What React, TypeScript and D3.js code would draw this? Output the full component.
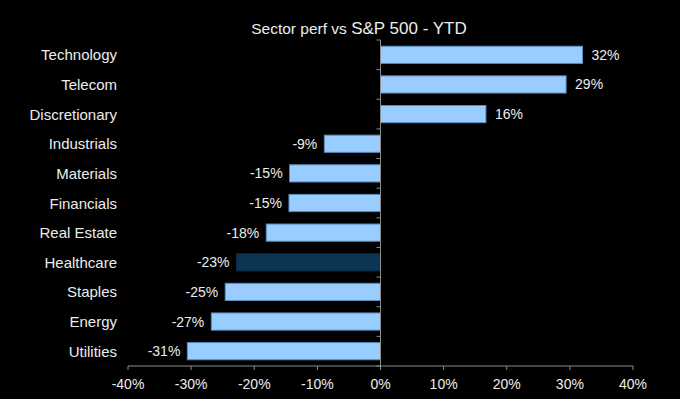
import React from "react";
import * as d3 from "d3";

const categories = ["Technology", "Telecom", "Discretionary", "Industrials", "Materials", "Financials", "Real Estate", "Healthcare", "Staples", "Energy", "Utilities"];
const values = [32.0, 29.4, 16.7, -8.9, -14.4, -14.5, -18.1, -22.8, -24.6, -26.8, -30.6];
const valueLabels = ["32%", "29%", "16%", "-9%", "-15%", "-15%", "-18%", "-23%", "-25%", "-27%", "-31%"];
const highlighted = ["Healthcare"];
const xTicks = [-40, -30, -20, -10, 0, 10, 20, 30, 40];

const W = 680, H = 399;
const FONT = "'Liberation Sans', Arial, sans-serif";

export default function App() {
  const x = d3.scaleLinear().domain([-40, 40]).range([128, 633]);
  const y = d3.scaleBand<string>().domain(categories).range([40, 366]).paddingInner(0.42).paddingOuter(0.21);
  const x0 = x(0);
  const yTop = 40, yBottom = 366;
  const bandTicks = d3.range(categories.length + 1).map(i => yTop + i * (yBottom - yTop) / categories.length);

  return (
    <svg width={W} height={H} style={{ position: "absolute", left: 0, top: 0, background: "#000" }} fontFamily={FONT}>
      <rect x={0} y={0} width={W} height={H} fill="#000" />
      <text x={359} y={34} textAnchor="middle" fill="#ececec">
        <tspan fontSize={15.5}>Sector perf vs </tspan>
        <tspan fontSize={17}>S&amp;P 500 - YTD</tspan>
      </text>
      {categories.map((c, i) => {
        const v = values[i];
        const bx = Math.min(x(v), x0);
        const bw = Math.abs(x(v) - x0);
        const by = y(c)!;
        const bh = y.bandwidth();
        const hl = highlighted.includes(c);
        return (
          <g key={c}>
            <rect x={bx} y={by} width={bw} height={bh} fill={hl ? "#0c3553" : "#99ccff"} stroke={hl ? "#0a2a44" : "#5a8cbc"} strokeWidth={1} />
            <text x={v >= 0 ? x(v) + 9 : x(v) - 7} y={by + bh / 2 + 5} textAnchor={v >= 0 ? "start" : "end"} fontSize={14} fill="#ececec">{valueLabels[i]}</text>
            <text x={117} y={by + bh / 2 + 5.5} textAnchor="end" fontSize={15} fill="#ececec">{c}</text>
          </g>
        );
      })}
      <line x1={x0} x2={x0} y1={yTop} y2={yBottom} stroke="#8c8c8c" strokeWidth={1} />
      {bandTicks.map((t, i) => (
        <line key={i} x1={x0 - 4} x2={x0} y1={t} y2={t} stroke="#8c8c8c" strokeWidth={1} />
      ))}
      <line x1={x(-40)} x2={x(40)} y1={yBottom} y2={yBottom} stroke="#8c8c8c" strokeWidth={1} />
      {xTicks.map(t => (
        <g key={t}>
          <line x1={x(t)} x2={x(t)} y1={yBottom} y2={yBottom + 4} stroke="#8c8c8c" strokeWidth={1} />
          <text x={x(t)} y={389} textAnchor="middle" fontSize={14} fill="#ececec">{t}%</text>
        </g>
      ))}
    </svg>
  );
}
